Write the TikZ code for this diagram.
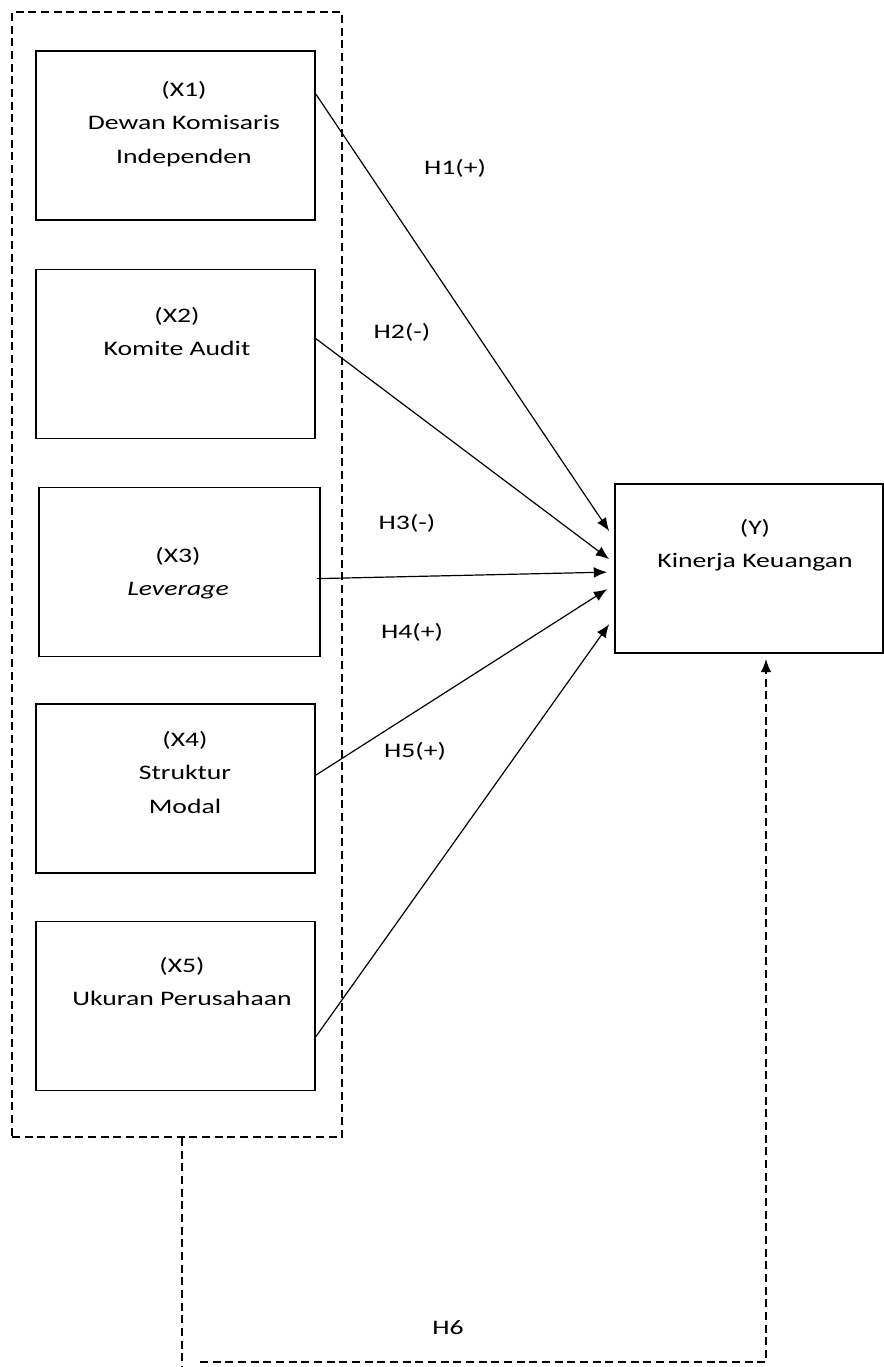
\documentclass[tikz,border=0pt]{standalone}
\usepackage{fontspec}
\setmainfont{Carlito}[FakeStretch=1.34]
\usetikzlibrary{calc,arrows.meta}
\def\pxu{0.75pt}
\tikzset{
  varbox/.style={draw, line width=1.3pt, rectangle, minimum width=279*\pxu, minimum height=169*\pxu, inner sep=0pt},
  lbl/.style={align=center, font=\fontsize{15.5}{25}\selectfont, inner sep=0pt, anchor=north},
  hyp/.style={font=\fontsize{15.5}{18}\selectfont, inner sep=0pt},
  conn/.style={line width=0.9pt, -{Latex[length=10pt,width=8pt]}},
  dsh/.style={line width=1.4pt, dash pattern=on 6pt off 3.5pt},
}
\begin{document}
\begin{tikzpicture}[x=0.75pt,y=-0.75pt]
\useasboundingbox (0,0) rectangle (883,1367);
\node[dsh, draw, rectangle, minimum width=330*\pxu, minimum height=1125*\pxu, inner sep=0pt] (grp) at (177,574.5) {};
\node[varbox] (x1) at (175.5,135.5) {};
\node[varbox] (x2) at (175.5,354) {};
\node[varbox, minimum width=281*\pxu] (x3) at (179.5,572) {};
\node[varbox] (x4) at (175.5,788.5) {};
\node[varbox] (x5) at (175.5,1006) {};
\node[varbox, minimum width=268*\pxu] (y) at (749,568.5) {};
\node[lbl] (t1) at (184,81) {(X1)\\Dewan Komisaris\\Independen};
\node[lbl] (t2) at (177,307) {(X2)\\Komite Audit};
\node[lbl] (t3) at (178,547) {(X3)\\\itshape Leverage};
\node[lbl] (t4) at (185,731) {(X4)\\Struktur\\Modal};
\node[lbl] (t5) at (182,957) {(X5)\\Ukuran Perusahaan};
\node[lbl] (ty) at (755,519) {(Y)\\Kinerja Keuangan};
\node[hyp] (h1) at (455,168) {H1(+)};
\node[hyp] (h2) at (402,332) {H2(-)};
\node[hyp] (h3) at (407,523) {H3(-)};
\node[hyp] (h4) at (412,632) {H4(+)};
\node[hyp] (h5) at (415,751) {H5(+)};
\node[hyp] (h6) at (448,1328) {H6};
\draw[conn] ($(x1.north east)+(0,44)$) -- ($(y.north west)+(-5,48)$);
\draw[conn] ($(x2.north east)+(0,70)$) -- ($(y.north west)+(-5,76)$);
\draw[conn] ($(x3.north east)+(-4,92)$) -- ($(y.north west)+(-7,89)$);
\draw[conn] ($(x4.north east)+(0,72)$) -- ($(y.north west)+(-7,106)$);
\draw[conn] ($(x5.north east)+(0,116)$) -- ($(y.north west)+(-5,141)$);
\draw[dsh] ([xshift=5*\pxu]grp.south) -- ++(0,232);
\coordinate (h6s) at (200,1362);
\draw[dsh, -{Latex[length=10pt,width=8pt]}] (h6s) -| ([xshift=17*\pxu,yshift=-5*\pxu]y.south);
\end{tikzpicture}
\end{document}
